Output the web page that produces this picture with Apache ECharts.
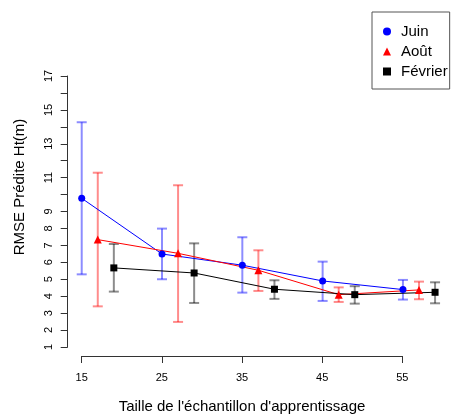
<!DOCTYPE html>
<html>
<head>
<meta charset="utf-8">
<script src="https://cdn.jsdelivr.net/npm/echarts@6/dist/echarts.min.js"></script>
<style>
html,body{margin:0;padding:0;background:#fff;}
#c{width:452px;height:419px;}
</style>
</head>
<body>
<div id="c"></div>
<script>
// Data
const juinX = [15, 25, 35, 45, 55];
const juinY = [9.78, 6.49, 5.83, 4.90, 4.39];
const juinLo = [5.29, 5.00, 4.21, 3.72, 3.80];
const juinHi = [14.27, 7.99, 7.48, 6.04, 4.96];

const aoutX = [17, 27, 37, 47, 57];
const aoutY = [7.34, 6.53, 5.53, 4.09, 4.37];
const aoutLo = [3.40, 2.48, 4.31, 3.66, 3.82];
const aoutHi = [11.29, 10.55, 6.71, 4.52, 4.86];

const fevX = [19, 29, 39, 49, 59];
const fevY = [5.67, 5.37, 4.41, 4.09, 4.23];
const fevLo = [4.27, 3.60, 3.84, 3.56, 3.58];
const fevHi = [7.08, 7.12, 4.94, 4.59, 4.82];

const xTicks = [15, 25, 35, 45, 55];
const yTicks = [1,2,3,4,5,6,7,8,9,10,11,12,13,14,15,16,17];
const yLabels = [1,2,3,4,5,6,7,8,9,11,13,15,17];

const FONT = '"Liberation Sans", Arial, sans-serif';

function pts(xs, ys){ return xs.map((x,i)=>[x, ys[i]]); }
function errData(xs, lo, hi){ return xs.map((x,i)=>[x, lo[i], hi[i]]); }

function errSeries(name, xs, lo, hi, color){
  return {
    type: 'custom',
    name: name + ' (IC)',
    xAxisIndex: 0, yAxisIndex: 0,
    data: errData(xs, lo, hi),
    itemStyle: {color: color},
    z: 1,
    silent: true,
    renderItem: function(params, api){
      const x = api.value(0);
      const p1 = api.coord([x, api.value(1)]);
      const p2 = api.coord([x, api.value(2)]);
      const hw = 5;
      const st = {stroke: color, lineWidth: 2};
      return {type:'group', children:[
        {type:'line', shape:{x1:p1[0], y1:p1[1], x2:p2[0], y2:p2[1]}, style:st},
        {type:'line', shape:{x1:p1[0]-hw, y1:p1[1], x2:p1[0]+hw, y2:p1[1]}, style:st},
        {type:'line', shape:{x1:p2[0]-hw, y1:p2[1], x2:p2[0]+hw, y2:p2[1]}, style:st}
      ]};
    }
  };
}

function lineSeries(name, xs, ys, color, symbol, size){
  return {
    type: 'line', name: name,
    xAxisIndex: 0, yAxisIndex: 0,
    data: pts(xs, ys),
    symbol: symbol, symbolSize: size, showSymbol: true,
    lineStyle: {color: color, width: 1},
    itemStyle: {color: color},
    color: color,
    z: 3, animation: false
  };
}

const chart = echarts.init(document.getElementById('c'), null, {renderer:'canvas'});
chart.setOption({
  animation: false,
  backgroundColor: '#fff',
  grid: [
    {left: 67.7, right: 2.8, top: 76, bottom: 72, containLabel: false},
    {left: 81.7, right: 49.7, top: 76, bottom: 57, containLabel: false}
  ],
  xAxis: [
    {gridIndex: 0, type: 'value', min: 13.256, max: 60.76, show: false},
    {gridIndex: 1, type: 'value', min: 15, max: 55, interval: 10,
     axisLine: {show: true, lineStyle: {color: '#333', width: 1}},
     axisTick: {show: true, length: 7, inside: false, lineStyle: {color: '#333'}},
     axisLabel: {show: true, margin: 16, fontSize: 11, color: '#000', fontFamily: FONT},
     splitLine: {show: false},
     name: "Taille de l'échantillon d'apprentissage",
     nameLocation: 'middle', nameGap: 43,
     nameTextStyle: {fontSize: 15, color: '#000', fontFamily: FONT}
    }
  ],
  yAxis: [
    {gridIndex: 0, type: 'value', min: 1, max: 17, interval: 1,
     axisLine: {show: true, lineStyle: {color: '#333', width: 1}},
     axisTick: {show: true, length: 7, lineStyle: {color: '#333'}},
     axisLabel: {show: true, rotate: 90, margin: 13, fontSize: 11, color: '#000', fontFamily: FONT,
       formatter: function(v){ return yLabels.indexOf(v) >= 0 ? String(v) : ''; }},
     splitLine: {show: false}
    },
    {gridIndex: 1, type: 'value', min: 0, max: 1, show: false}
  ],
  legend: {
    show: true,
    orient: 'vertical',
    left: 372, top: 12,
    padding: [12, 2, 10, 11],
    itemGap: 5,
    itemWidth: 8, itemHeight: 8,
    borderColor: '#555', borderWidth: 1,
    textStyle: {fontSize: 15, color: '#000', fontFamily: FONT, lineHeight: 14, padding: [0, 0, 0, 5]},
    data: [
      {name: 'Juin', icon: 'circle', itemStyle: {color: '#0000ff'}},
      {name: 'Août', icon: 'triangle', itemStyle: {color: '#ff0000'}},
      {name: 'Février', icon: 'rect', itemStyle: {color: '#000000'}}
    ]
  },
  graphic: [
    {type: 'text', x: 20, y: 187, rotation: Math.PI/2,
     style: {text: 'RMSE Prédite Ht(m)', fontSize: 15, fontFamily: FONT, fill: '#000',
       align: 'center', verticalAlign: 'middle'}}
  ],
  series: [
    errSeries('Juin', juinX, juinLo, juinHi, 'rgba(0,0,255,0.45)'),
    errSeries('Août', aoutX, aoutLo, aoutHi, 'rgba(255,0,0,0.45)'),
    errSeries('Février', fevX, fevLo, fevHi, 'rgba(0,0,0,0.45)'),
    lineSeries('Juin', juinX, juinY, '#0000ff', 'circle', 7),
    lineSeries('Août', aoutX, aoutY, '#ff0000', 'triangle', 8),
    lineSeries('Février', fevX, fevY, '#000000', 'rect', 7)
  ]
});
</script>
</body>
</html>
